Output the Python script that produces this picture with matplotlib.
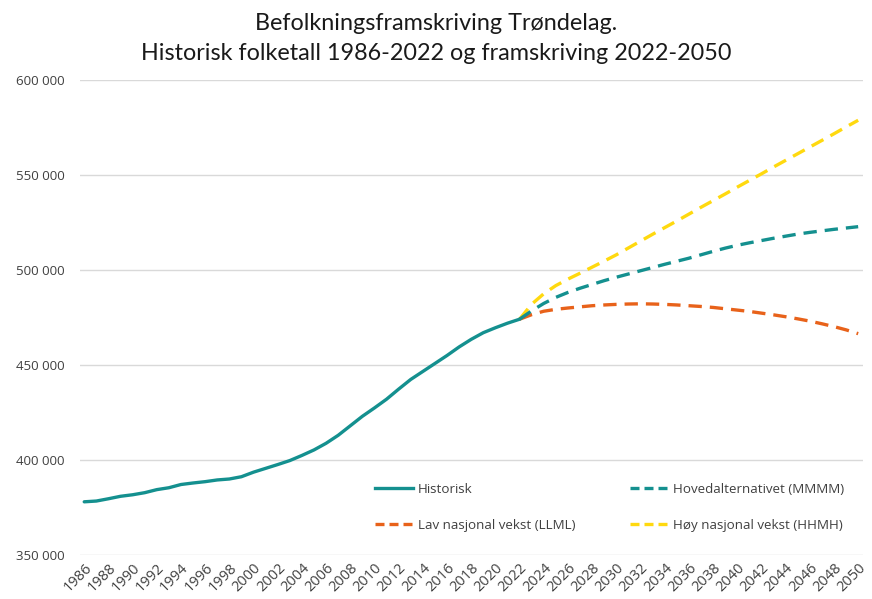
import matplotlib
matplotlib.use("Agg")
import matplotlib.pyplot as plt
from matplotlib.lines import Line2D
from matplotlib.ticker import FuncFormatter, MultipleLocator

years_hist = list(range(1986, 2023))
historisk = [378.0, 378.4, 379.6, 380.9, 381.7, 382.8, 384.4, 385.4, 387.1, 387.9,
             388.6, 389.5, 390.0, 391.2, 393.6, 395.6, 397.6, 399.7, 402.4, 405.3,
             408.8, 413.0, 418.0, 423.0, 427.4, 432.0, 437.3, 442.4, 446.6, 450.8,
             455.0, 459.5, 463.5, 467.0, 469.6, 472.0, 474.1]

years_proj = list(range(2022, 2051))
mmmm = [474.1, 478.5, 482.4, 485.6, 488.2, 490.4, 492.4, 494.4, 496.2, 497.9,
        499.6, 501.3, 503.0, 504.6, 506.2, 508.0, 509.8, 511.5, 513.0, 514.3,
        515.5, 516.7, 517.8, 518.9, 519.8, 520.6, 521.4, 522.1, 522.8]
llml = [474.1, 476.5, 478.3, 479.3, 480.0, 480.6, 481.2, 481.6, 481.9, 482.1,
        482.2, 482.1, 481.9, 481.6, 481.2, 480.8, 480.3, 479.6, 478.9, 478.2,
        477.3, 476.4, 475.4, 474.3, 473.1, 471.7, 470.2, 468.5, 466.5]
hhmh = [474.1, 482.0, 487.5, 491.8, 495.2, 498.3, 501.5, 504.7, 508.0, 511.6,
        515.2, 518.8, 522.3, 525.8, 529.4, 533.0, 536.5, 540.0, 543.6, 547.1,
        550.6, 554.2, 557.7, 561.2, 564.7, 568.2, 571.7, 575.3, 578.8]

labels = ["Historisk", "Hovedalternativet (MMMM)", "Lav nasjonal vekst (LLML)", "Høy nasjonal vekst (HHMH)"]
title1 = "Befolkningsframskriving Trøndelag."
title2 = "Historisk folketall 1986-2022 og framskriving 2022-2050"

teal = "#14908F"
orange = "#E8621A"
yellow = "#FFD90F"

fig = plt.figure(figsize=(8.72, 5.99), dpi=100)
ax = fig.add_axes([80/872, 1-555/599, (863-80)/872, (555-80)/599])

scale = 1000
dash = (4.0, 2.4)
ax.plot(years_proj, [v*scale for v in hhmh], color=yellow, lw=2.4, dashes=dash)
ax.plot(years_proj, [v*scale for v in llml], color=orange, lw=2.4, dashes=dash)
ax.plot(years_proj, [v*scale for v in mmmm], color=teal, lw=2.4, dashes=dash)
ax.plot(years_hist, [v*scale for v in historisk], color=teal, lw=2.4, solid_capstyle="round")

ax.set_ylim(350000, 600000)
ax.set_xlim(1985.65, 2050.4)
ax.yaxis.set_major_locator(MultipleLocator(50000))
ax.yaxis.set_major_formatter(FuncFormatter(lambda v, p: f"{int(v):,}".replace(",", " ")))
ax.set_xticks(list(range(1986, 2051, 2)))
ax.grid(axis="y", color="#D9D9D9", lw=1.0)
ax.set_axisbelow(True)
for s in ax.spines.values():
    s.set_visible(False)
ax.tick_params(axis="both", length=0, colors="#404040", labelsize=9.5)
ax.tick_params(axis="x", labelsize=10.5)
ax.tick_params(axis="y", pad=11)
ax.tick_params(axis="x", pad=4)
for lab in ax.get_yticklabels() + ax.get_xticklabels():
    lab.set_family("Open Sans")
for lab in ax.get_xticklabels():
    lab.set_rotation(45)
    lab.set_ha("right")
    lab.set_rotation_mode("anchor")

ldash = (2.7, 1.5)
hd_his = Line2D([], [], color=teal, lw=2.4)
hd_hov = Line2D([], [], color=teal, lw=2.4, dashes=ldash)
hd_lav = Line2D([], [], color=orange, lw=2.4, dashes=ldash)
hd_hoy = Line2D([], [], color=yellow, lw=2.4, dashes=ldash)
leg = ax.legend([hd_his, hd_lav, hd_hov, hd_hoy],
                [labels[0], labels[2], labels[1], labels[3]],
                ncol=2, frameon=False, loc="lower left", bbox_to_anchor=(0.362, 0.023),
                prop={"family": "Open Sans", "size": 9.6}, labelcolor="#404040",
                handlelength=2.85, handletextpad=0.35, columnspacing=4.1, labelspacing=1.75)

fig.text(0.5, 1-23/599, title1, ha="center", va="center", fontsize=16.8, family="Lato", color="#1a1a1a")
fig.text(0.5, 1-53/599, title2, ha="center", va="center", fontsize=16.8, family="Lato", color="#1a1a1a")

fig.savefig("out.png", dpi=100)
